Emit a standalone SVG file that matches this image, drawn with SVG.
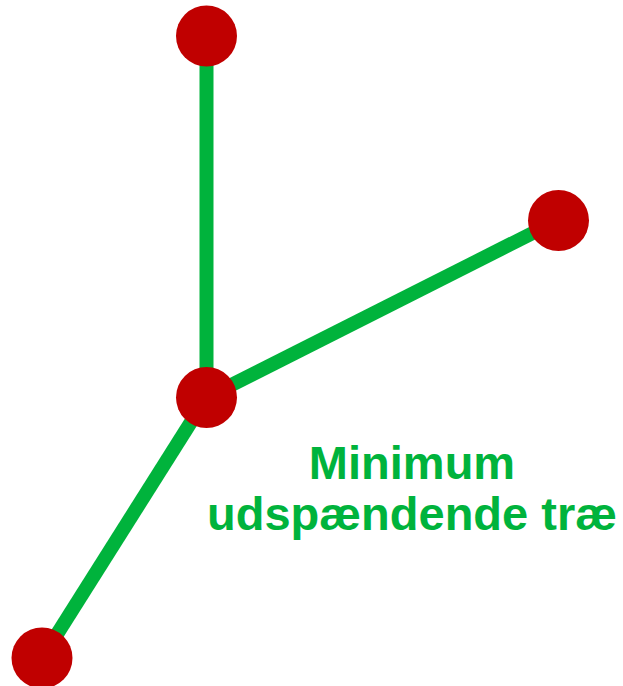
<svg xmlns="http://www.w3.org/2000/svg" width="623" height="686" viewBox="0 0 623 686">
<style>
.edge{stroke:#00B33C;stroke-width:14;fill:none}
.node{fill:#C00000}
.lbl{font-family:"Liberation Sans",Arial,sans-serif;font-weight:bold;font-size:47px;fill:#00B33C;text-anchor:middle}
</style>
<rect width="623" height="686" fill="#fff"/>
<g id="connectors">
<line class="edge" x1="206.5" y1="36" x2="206.5" y2="397.5"/>
<line class="edge" x1="206.5" y1="397.5" x2="558.5" y2="220"/>
<line class="edge" x1="206.5" y1="397.5" x2="42" y2="658"/>
</g>
<g id="node-top"><circle class="node" cx="206.5" cy="36" r="30.5"/></g>
<g id="node-right"><circle class="node" cx="558.5" cy="220.5" r="30.5"/></g>
<g id="node-center"><circle class="node" cx="206.5" cy="397.5" r="30.5"/></g>
<g id="node-bottom"><circle class="node" cx="42" cy="658" r="30.5"/></g>
<g id="label">
<text class="lbl" x="412" y="479">Minimum</text>
<text class="lbl" x="412" y="530">udspændende træ</text>
</g>
</svg>
